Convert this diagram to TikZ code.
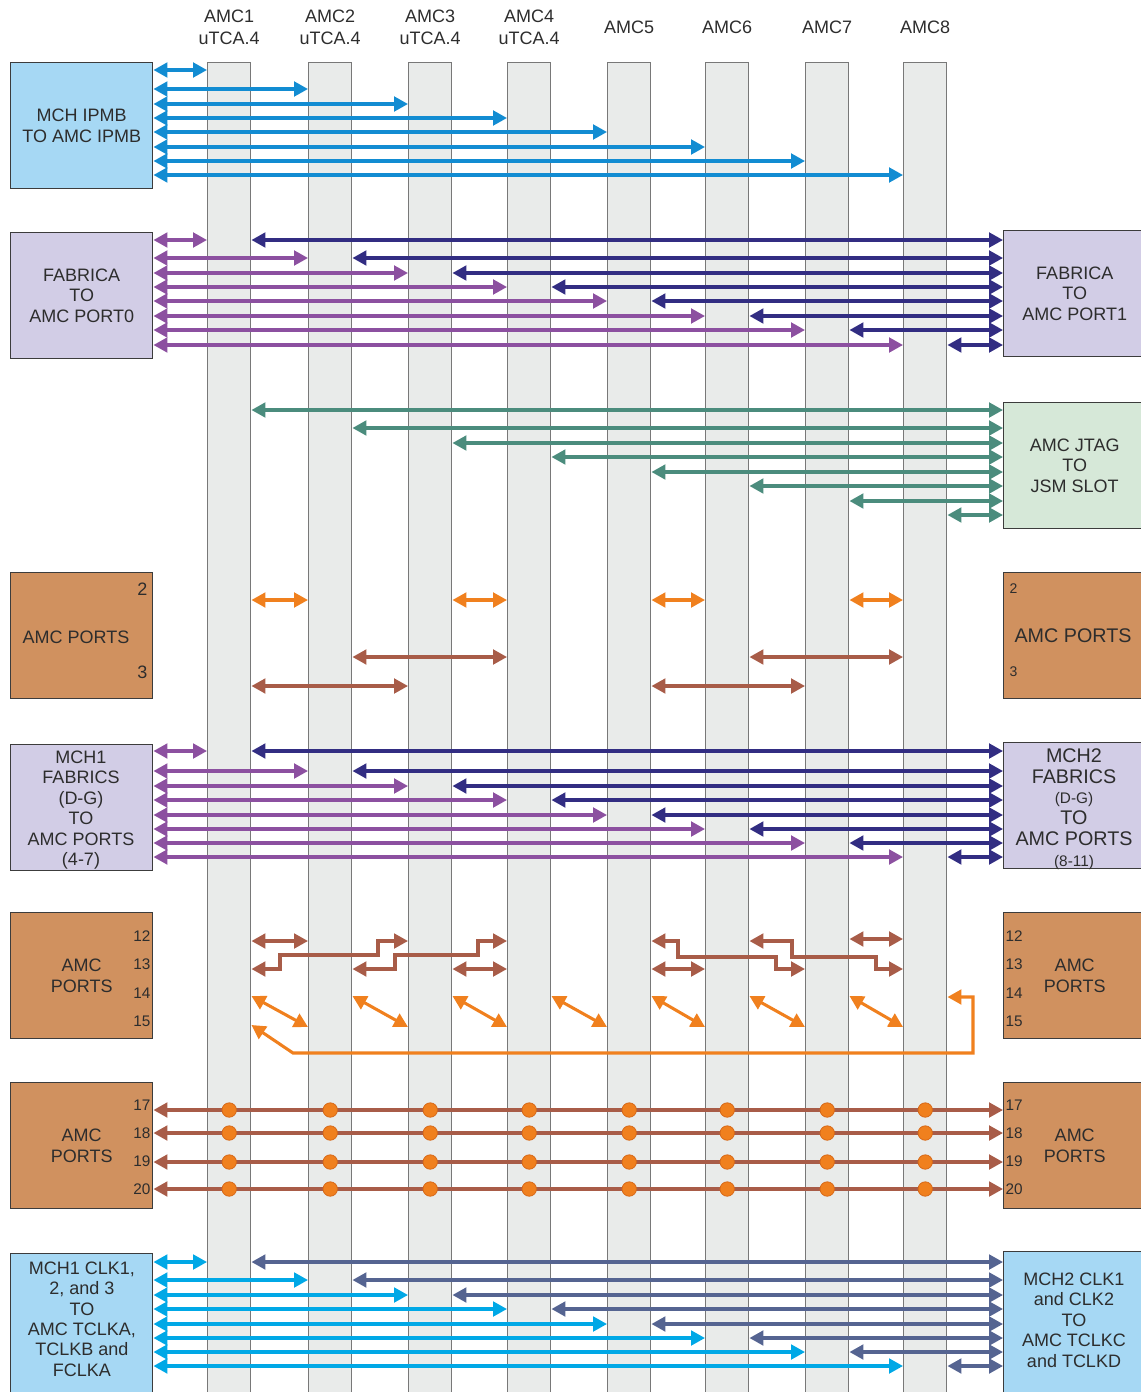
\documentclass[tikz,border=0pt]{standalone}
\usepackage{fontspec}
\setmainfont{Liberation Sans}
\usetikzlibrary{arrows.meta}

\definecolor{barfill}{RGB}{233,235,234}
\definecolor{barline}{RGB}{120,120,120}
\definecolor{boxline}{RGB}{60,60,60}
\definecolor{txt}{RGB}{45,45,45}
\definecolor{ipmbfill}{RGB}{166,216,244}
\definecolor{ipmbblue}{RGB}{18,140,210}
\definecolor{fabfill}{RGB}{210,205,230}
\definecolor{fabpurple}{RGB}{140,80,160}
\definecolor{fabnavy}{RGB}{50,45,130}
\definecolor{jtagfill}{RGB}{214,232,216}
\definecolor{jtagteal}{RGB}{75,140,125}
\definecolor{portfill}{RGB}{208,145,95}
\definecolor{portorange}{RGB}{240,128,30}
\definecolor{portbrown}{RGB}{168,92,72}
\definecolor{dotedge}{RGB}{215,105,25}
\definecolor{clkcyan}{RGB}{0,168,230}
\definecolor{clkslate}{RGB}{85,100,145}

\newcommand{\hdfont}{\fontsize{13.5}{16.5}\selectfont}
\newcommand{\bxfont}{\fontsize{13.5}{15.4}\selectfont}
\newcommand{\bigbxfont}{\fontsize{14.8}{15.6}\selectfont}
\newcommand{\smbxfont}{\fontsize{11.5}{15.6}\selectfont}
\newcommand{\numfont}{\fontsize{11.5}{13}\selectfont}

\tikzset{every picture/.style={line width=0.75pt}}

\begin{document}
\begin{tikzpicture}[x=0.75pt,y=0.75pt,yscale=-1,xscale=1,
  >={Triangle[length=10.5pt,width=11pt]},
  bar/.style={draw=barline,fill=barfill,line width=1.1pt,anchor=north west,inner sep=0pt,minimum width=32.25pt,minimum height=1002pt},
  head/.style={text=txt,align=center,font=\hdfont,inner sep=0pt},
  box/.style={draw=boxline,line width=1.1pt,anchor=north west,inner sep=0pt,minimum width=106.5pt,minimum height=94.5pt,text=txt,align=center,font=\bxfont},
  lbl/.style={text=txt,inner sep=0pt,align=center,font=\bxfont},
  num/.style={text=txt,inner sep=0pt,font=\numfont},
  lnk/.style={<->,line width=2.3pt},
  dotmark/.style={fill=portorange,draw=dotedge,line width=0.6pt}]
\path[use as bounding box] (0,0) rectangle (1140,1392);

% AMC slots
\foreach \i/\x in {1/207,2/308,3/408,4/507,5/607,6/705,7/805,8/903}
  \node[bar] (amc\i) at (\x,62) {};

% Text Node
\foreach \i in {1,...,4}
  \node[head] (hd\i) at (amc\i.north |- 0,27) {AMC\i\\uTCA.4};
\foreach \i in {5,...,8}
  \node[head] (hd\i) at (amc\i.north |- 0,27) {AMC\i};

% Boxes
\node[box,fill=ipmbfill] (ipmb) at (10,62) {MCH IPMB\\TO AMC IPMB};
\node[box,fill=fabfill] (fabL) at (10,232) {FABRICA\\TO\\AMC PORT0};
\node[box,fill=fabfill] (fabR) at (1003,230) {FABRICA\\TO\\AMC PORT1};
\node[box,fill=jtagfill] (jtag) at (1003,402) {AMC JTAG\\TO\\JSM SLOT};
\node[box,fill=portfill] (p2L) at (10,572) {};
\node[box,fill=portfill] (p2R) at (1003,572) {};
\node[box,fill=fabfill] (mch1) at (10,744) {};
\node[box,fill=fabfill] (mch2) at (1003,742) {};
\node[box,fill=portfill] (p12L) at (10,912) {AMC\\PORTS};
\node[box,fill=portfill] (p12R) at (1003,912) {AMC\\PORTS};
\node[box,fill=portfill] (p17L) at (10,1082) {AMC\\PORTS};
\node[box,fill=portfill] (p17R) at (1003,1082) {AMC\\PORTS};
\node[box,fill=ipmbfill,minimum height=112.5pt] (clkL) at (10,1253) {};
\node[box,fill=ipmbfill,minimum height=112.5pt] (clkR) at (1003,1251) {};

% Text Node
\node[lbl] (p2Lt) at (76,637) {AMC PORTS};
\node[lbl,font=\fontsize{13.5}{15}\selectfont,anchor=east] (p2Ln2) at (148,589) {2};
\node[lbl,font=\fontsize{13.5}{15}\selectfont,anchor=east] (p2Ln3) at (148,672) {3};
\node[lbl,font=\bigbxfont] (p2Rt) at (1073,636) {AMC PORTS};
\node[lbl,font=\fontsize{10.5}{12}\selectfont,anchor=west] (p2Rn2) at (1009,589) {2};
\node[lbl,font=\fontsize{10.5}{12}\selectfont,anchor=west] (p2Rn3) at (1009,672) {3};
\node[lbl] (mch1t) at (81,810) {MCH1\\FABRICS\\(D-G)\\TO\\AMC PORTS\\(4-7)};
\node[lbl,font=\bigbxfont] (mch2t) at (1074,809) {MCH2\\FABRICS\\{\smbxfont (D-G)}\\TO\\AMC PORTS\\{\smbxfont (8-11)}};
\foreach \n/\y in {12/936,13/964,14/993,15/1021,17/1105,18/1133,19/1161,20/1189}{
  \node[num,anchor=east] (nL\n) at (151,\y) {\n};
  \node[num,anchor=west] (nR\n) at (1005,\y) {\n};
}
\node[lbl,font=\fontsize{13.5}{15.3}\selectfont] (clkLt) at (82,1319) {MCH1 CLK1,\\2, and 3\\TO\\AMC TCLKA,\\TCLKB and\\FCLKA};
\node[lbl,font=\fontsize{13.5}{15.3}\selectfont] (clkRt) at (1074,1320) {MCH2 CLK1\\and CLK2\\TO\\AMC TCLKC\\and TCLKD};

% IPMB
\foreach \y/\j in {70/1,89/2,104/3,118/4,132/5,147/6,161/7,175/8}
  \draw[lnk,ipmbblue] (ipmb.east |- 0,\y) -- (amc\j.west |- 0,\y);

% Fabric A
\foreach \y/\j in {240/1,258/2,273/3,287/4,301/5,316/6,330/7,345/8}{
  \draw[lnk,fabpurple] (fabL.east |- 0,\y) -- (amc\j.west |- 0,\y);
  \draw[lnk,fabnavy] (amc\j.east |- 0,\y) -- (fabR.west |- 0,\y);
}

% JTAG
\foreach \y/\j in {410/1,428/2,443/3,457/4,472/5,486/6,501/7,515/8}
  \draw[lnk,jtagteal] (amc\j.east |- 0,\y) -- (jtag.west |- 0,\y);

% Ports 2 and 3
\foreach \a/\b in {1/2,3/4,5/6,7/8}
  \draw[lnk,portorange] (amc\a.east |- 0,600) -- (amc\b.west |- 0,600);
\foreach \a/\b in {2/4,6/8}
  \draw[lnk,portbrown] (amc\a.east |- 0,657) -- (amc\b.west |- 0,657);
\foreach \a/\b in {1/3,5/7}
  \draw[lnk,portbrown] (amc\a.east |- 0,686) -- (amc\b.west |- 0,686);

% Ports 4-7 and 8-11
\foreach \y/\j in {751/1,771/2,786/3,800/4,815/5,829/6,843/7,857/8}{
  \draw[lnk,fabpurple] (mch1.east |- 0,\y) -- (amc\j.west |- 0,\y);
  \draw[lnk,fabnavy] (amc\j.east |- 0,\y) -- (mch2.west |- 0,\y);
}

% Ports 12-15
\draw[lnk,portbrown] (amc1.east |- 0,941) -- (amc2.west |- 0,941);
\draw[lnk,portbrown] (amc3.east |- 0,969) -- (amc4.west |- 0,969);
\draw[lnk,portbrown] (amc5.east |- 0,969) -- (amc6.west |- 0,969);
\draw[lnk,portbrown] (amc7.east |- 0,939) -- (amc8.west |- 0,939);
\draw[lnk,portbrown] (amc1.east |- 0,969) -- (280,969) -- (280,955) -- (378,955) -- (378,941) -- (amc3.west |- 0,941);
\draw[lnk,portbrown] (amc2.east |- 0,969) -- (395,969) -- (395,955) -- (478,955) -- (478,941) -- (amc4.west |- 0,941);
\draw[lnk,portbrown] (amc5.east |- 0,941) -- (678,941) -- (678,957) -- (776,957) -- (776,969) -- (amc7.west |- 0,969);
\draw[lnk,portbrown] (amc6.east |- 0,941) -- (792,941) -- (792,957) -- (876,957) -- (876,969) -- (amc8.west |- 0,969);
\foreach \a/\b in {1/2,2/3,3/4,4/5,5/6,6/7,7/8}
  \draw[lnk,portorange] (amc\a.east |- 0,996) -- (amc\b.west |- 0,1027);
\draw[lnk,portorange] (amc1.east |- 0,1025) -- (293,1053) -- (973,1053) -- (973,997) -- (amc8.east |- 0,997);

% Ports 17-20
\foreach \y in {1110,1133,1162,1189}{
  \draw[lnk,portbrown] (p17L.east |- 0,\y) -- (p17R.west |- 0,\y);
  \foreach \i in {1,...,8}
    \filldraw[dotmark] (amc\i.center |- 0,\y) circle[radius=5.4pt];
}

% Clocks
\foreach \y/\j in {1262/1,1280/2,1295/3,1309/4,1324/5,1338/6,1352/7,1366/8}{
  \draw[lnk,clkcyan] (clkL.east |- 0,\y) -- (amc\j.west |- 0,\y);
  \draw[lnk,clkslate] (amc\j.east |- 0,\y) -- (clkR.west |- 0,\y);
}

\end{tikzpicture}
\end{document}
